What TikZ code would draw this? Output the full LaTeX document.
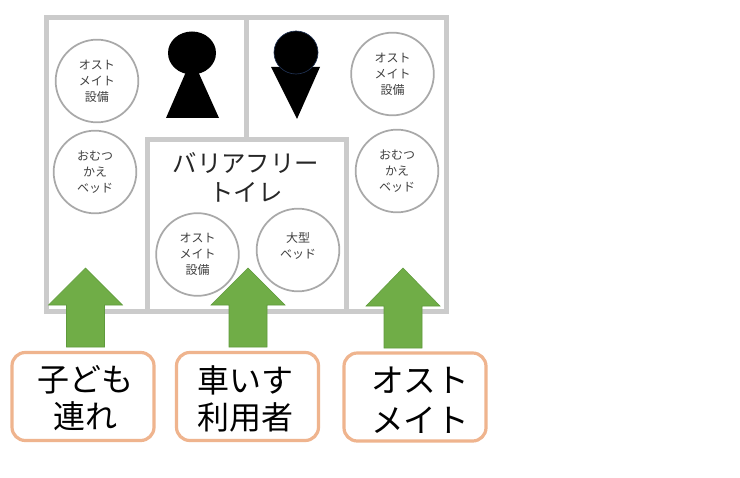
\documentclass[tikz,border=0pt]{standalone}
\usepackage{fontspec}
\setmainfont{Noto Sans CJK JP}
\definecolor{wallgray}{HTML}{CBCBCB}
\definecolor{ringgray}{HTML}{A9A9A9}
\definecolor{arrowgreen}{HTML}{70AD47}
\definecolor{arrowedge}{HTML}{5F9A3C}
\definecolor{boxorange}{HTML}{EFB48E}
\definecolor{headnavy}{HTML}{1F3050}
\tikzset{
	wall/.style={draw=wallgray,line width=3.75pt},
	facility/.style={circle,draw=ringgray,line width=1.3pt,minimum size=62pt,inner sep=0pt,align=center,font=\fontsize{9}{12}\selectfont,text=black!75},
	usertag/.style={rectangle,rounded corners=10pt,draw=boxorange,line width=2.4pt,fill=white,minimum width=106.5pt,minimum height=66pt,inner sep=0pt},
	tagtext/.style={align=center,font=\fontsize{24}{27.75}\selectfont},
	entryarrow/.style={fill=arrowgreen,draw=arrowedge,line width=0.4pt}
}
\begin{document}
\begin{tikzpicture}[x=0.75pt,y=-0.75pt]
	\useasboundingbox (0,0) rectangle (740,478);
	\fill[white] (0,0) rectangle (740,478);
	% walls
	\draw[wall] (46,18) rectangle (446,311);
	\draw[wall] (246,18) -- (246,140);
	\draw[wall,fill=white] (147,140) rectangle (346,311);
	\node[align=center,font=\fontsize{18.3}{21.75}\selectfont,text=black!85] (barrierfree) at (246,177) {バリアフリー\\トイレ};
	% women and men
	\fill[black] (192,58) -- (219,118) -- (166,118) -- cycle;
	\fill[black] (192,53) ellipse (24 and 21.5);
	\fill[black] (271,67) -- (320,67) -- (297,119) -- cycle;
	\draw[headnavy,fill=black,line width=0.5pt] (296,52.5) ellipse (22 and 21.5);
	% facilities
	\node[facility] (ostA) at (97,81) {オスト\\メイト\\設備};
	\node[facility] (babyA) at (95,172) {おむつ\\かえ\\ベッド};
	\node[facility] (ostB) at (392.5,74) {オスト\\メイト\\設備};
	\node[facility] (babyB) at (397,171) {おむつ\\かえ\\ベッド};
	\node[facility] (ostC) at (197.5,254.5) {オスト\\メイト\\設備};
	\node[facility] (bigbed) at (298,250) {};
	\node[align=center,font=\fontsize{9}{12}\selectfont,text=black!75] (bigbedtext) at (298,246) {大型\\ベッド};
	% arrows
	\foreach \x/\yneck/\yend in {85.5/305/347,248/305/347,403/306/348}
	{
		\draw[entryarrow] (\x,268) -- (\x+37,\yneck) -- (\x+19,\yneck) -- (\x+19,\yend) -- (\x-19,\yend) -- (\x-19,\yneck) -- (\x-37,\yneck) -- cycle;
	}
	% users
	\node[usertag] (child) at (83,396.5) {};
	\node[usertag] (wheelchair) at (247.5,396.5) {};
	\node[usertag] (ostomate) at (415,397) {};
	\node[tagtext] (childtext) at (85.5,398.5) {子ども\\連れ};
	\node[tagtext] (wheelchairtext) at (245.5,398.5) {車いす\\利用者};
	\node[tagtext,font=\fontsize{24.5}{30}\selectfont] (ostomatetext) at (420,400) {オスト\\メイト};
\end{tikzpicture}
\end{document}
